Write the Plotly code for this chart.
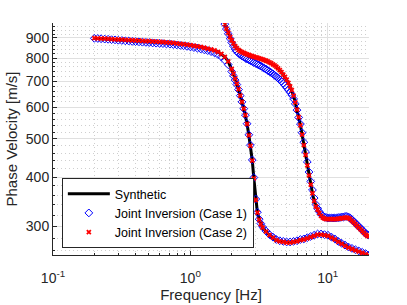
import plotly.graph_objects as go

# ---------------- data ----------------
freq_fund = [0.200, 0.212, 0.224, 0.238, 0.252, 0.267, 0.283, 0.299, 0.317, 0.336,
             0.356, 0.377, 0.399, 0.423, 0.448, 0.475, 0.502, 0.532, 0.564, 0.597,
             0.632, 0.670, 0.710, 0.752, 0.796, 0.843, 0.893, 0.946, 1.002, 1.062,
             1.125, 1.191, 1.262, 1.337, 1.416, 1.500, 1.589, 1.683, 1.783, 1.889,
             2.001, 2.060, 2.120, 2.180, 2.245, 2.310, 2.378, 2.450, 2.519, 2.590,
             2.669, 2.740, 2.827, 2.900, 2.995, 3.080, 3.172, 3.260, 3.360, 3.560,
             3.771, 3.994, 4.231, 4.482, 4.748, 5.030, 5.328, 5.644, 5.979, 6.333,
             6.709, 7.107, 7.528, 7.975, 8.448, 8.949, 9.479, 10.04, 10.64, 11.27,
             11.94, 12.64, 13.39, 14.19, 15.03, 15.92, 16.86, 17.86, 18.92, 20.0]

syn_fund = [899, 898, 897, 896, 895, 894, 893, 892, 891, 890,
            889, 888, 887, 886, 885, 884, 883, 882, 881, 880,
            879, 877, 876, 874, 872, 870, 868, 866, 863, 860,
            857, 854, 850, 846, 842, 837, 830, 820, 806, 785,
            750, 730, 710, 690, 668, 643, 620, 596, 574, 545,
            510, 480, 440, 397, 350, 325, 312, 304, 298, 291,
            285, 281, 277, 275, 274, 273, 273, 274, 275, 277,
            278, 280, 282, 284, 286, 286, 285, 284, 281, 278,
            274, 271, 268, 265, 263, 261, 259, 257, 255, 253]

case1_fund = [898, 897, 896, 894, 893, 891, 890, 888, 887, 885,
              884, 882, 881, 880, 878, 877, 876, 874, 873, 872,
              871, 869, 868, 866, 864, 862, 860, 857, 854, 851,
              848, 844, 840, 836, 831, 825, 817, 806, 790, 770,
              740, 722, 704, 686, 666, 643, 620, 596, 574, 546,
              512, 482, 442, 399, 352, 326, 313, 305, 299, 292,
              286, 282, 278, 276, 275, 274, 274, 275, 276, 278,
              279, 281, 283, 285, 287, 287, 286, 285, 282, 279,
              275, 272, 269, 266, 264, 262, 260, 258, 256, 254]

case2_fund = [899, 898, 897, 896, 895, 894, 893, 892, 891, 890,
              889, 888, 887, 886, 885, 884, 883, 882, 881, 880,
              879, 877, 876, 874, 872, 870, 868, 866, 863, 860,
              857, 854, 850, 846, 842, 837, 830, 820, 806, 785,
              751, 731, 710, 690, 668, 643, 620, 596, 574, 545,
              510, 480, 440, 397, 350, 325, 312, 304, 298, 291,
              285, 281, 277, 275, 274, 273, 273, 274, 275, 277,
              278, 280, 282, 284, 286, 286, 285, 284, 281, 278,
              274, 271, 268, 265, 263, 261, 259, 257, 255, 253]

freq_high = [1.783, 1.830, 1.889, 1.950, 2.001, 2.060, 2.120, 2.180, 2.245, 2.310,
             2.378, 2.450, 2.519, 2.590, 2.669, 2.740, 2.827, 2.900, 2.995, 3.080,
             3.172, 3.260, 3.360, 3.460, 3.560, 3.660, 3.771, 3.880, 3.994, 4.110,
             4.231, 4.355, 4.482, 4.613, 4.748, 4.887, 5.030, 5.177, 5.328, 5.484,
             5.644, 5.809, 5.979, 6.154, 6.333, 6.518, 6.709, 6.905, 7.107, 7.315,
             7.528, 7.748, 7.975, 8.208, 8.448, 8.695, 8.949, 9.211, 9.479, 9.757,
             10.04, 10.34, 10.64, 10.95, 11.27, 11.60, 11.94, 12.29, 12.64, 13.01,
             13.39, 13.78, 14.19, 14.60, 15.03, 15.47, 15.92, 16.38, 16.86, 17.36,
             17.86, 18.38, 18.92, 19.47, 20.0]

syn_high = [975, 950, 928, 905, 888, 872, 858, 848, 840, 834,
            829, 825, 821, 818, 815, 812, 809, 807, 804, 802,
            799, 797, 794, 791, 788, 785, 781, 777, 772, 767,
            761, 754, 746, 737, 727, 717, 706, 693, 679, 664,
            643, 618, 593, 567, 541, 512, 482, 455, 428, 404,
            383, 364, 348, 337, 331, 324, 319, 316, 314, 313,
            313, 313, 313, 313, 313, 313, 314, 314, 315, 315,
            316, 316, 315, 313, 310, 307, 304, 301, 298, 295,
            292, 289, 286, 284, 283]

case1_high = [975, 948, 922, 896, 876, 858, 843, 832, 823, 816,
              810, 805, 800, 796, 792, 788, 784, 780, 776, 772,
              768, 764, 759, 754, 750, 745, 740, 735, 730, 724,
              718, 712, 706, 699, 691, 683, 674, 665, 655, 645,
              631, 613, 591, 566, 545, 518, 490, 463, 437, 412,
              390, 371, 354, 341, 333, 327, 322, 319, 317, 316,
              315, 315, 315, 315, 315, 315, 316, 316, 317, 317,
              318, 318, 317, 315, 312, 309, 306, 303, 300, 297,
              294, 291, 288, 286, 285]

case2_high = [975, 950, 928, 905, 888, 872, 858, 848, 840, 834,
              829, 825, 821, 818, 815, 812, 809, 807, 804, 802,
              799, 797, 794, 791, 788, 785, 781, 777, 772, 767,
              761, 754, 746, 737, 727, 717, 706, 693, 679, 664,
              643, 618, 593, 567, 541, 512, 482, 455, 428, 404,
              383, 364, 348, 337, 331, 324, 319, 316, 314, 313,
              313, 313, 313, 313, 313, 313, 314, 314, 315, 315,
              316, 316, 315, 313, 310, 307, 304, 301, 298, 295,
              292, 289, 286, 284, 283]

x_tickvals = [0.1, 1, 10]
x_ticktext = ["10<sup>-1</sup>", "10<sup>0</sup>", "10<sup>1</sup>"]
y_tickvals = [300, 400, 500, 600, 700, 800, 900]
x_minor = [0.2, 0.3, 0.4, 0.5, 0.6, 0.7, 0.8, 0.9, 2, 3, 4, 5, 6, 7, 8, 9, 20]
y_minor = [260, 280, 320, 340, 360, 380, 420, 440, 460, 480, 520, 540, 560, 580,
           620, 640, 660, 680, 720, 740, 760, 780, 820, 840, 860, 880, 920, 940, 960, 980]

# ---------------- figure ----------------
FONT = "Liberation Sans, Arial, sans-serif"
TXT = "#262626"

fig = go.Figure()

for i, (fx, fy) in enumerate([(freq_fund, syn_fund), (freq_high, syn_high)]):
    fig.add_trace(go.Scatter(x=fx, y=fy, mode="lines", name="Synthetic",
                             line=dict(color="black", width=3),
                             showlegend=(i == 0)))
for i, (fx, fy) in enumerate([(freq_fund, case1_fund), (freq_high, case1_high)]):
    fig.add_trace(go.Scatter(x=fx, y=fy, mode="markers", name="Joint Inversion (Case 1)",
                             marker=dict(symbol="diamond-open", color="blue", size=6,
                                         line=dict(width=1, color="blue")),
                             showlegend=(i == 0)))
for i, (fx, fy) in enumerate([(freq_fund, case2_fund), (freq_high, case2_high)]):
    fig.add_trace(go.Scatter(x=fx, y=fy, mode="markers", name="Joint Inversion (Case 2)",
                             marker=dict(symbol="x-thin", color="red", size=4,
                                         line=dict(width=1.8, color="red")),
                             showlegend=(i == 0)))

fig.update_layout(
    width=407, height=305,
    margin=dict(l=53, r=38, t=23, b=50),
    paper_bgcolor="white", plot_bgcolor="white",
    font=dict(family=FONT, color=TXT, size=14),
    showlegend=True,
    legend=dict(x=0.028, y=0.03, xanchor="left", yanchor="bottom",
                bgcolor="white", bordercolor=TXT, borderwidth=1,
                font=dict(size=12.5, color="black"), tracegroupgap=0,
                itemwidth=42),
)

fig.update_xaxes(
    type="log", range=[-1, 1.30103], automargin=False,
    tickvals=x_tickvals, ticktext=x_ticktext,
    ticks="inside", ticklen=4, tickcolor=TXT, ticklabelstandoff=10,
    showline=True, linecolor=TXT, linewidth=1, mirror=False,
    showgrid=True, gridcolor="#e0e0e0", gridwidth=1,
    tickfont=dict(size=14, color=TXT),
    title=dict(text="Frequency [Hz]", font=dict(size=15, color=TXT), standoff=4),
    minor=dict(tickvals=x_minor, ticks="inside", ticklen=2, tickcolor=TXT,
               showgrid=True, gridcolor="#cfcfcf", griddash="1px,3px", gridwidth=1),
    zeroline=False,
)
fig.update_yaxes(
    type="log", range=[2.4048, 2.9921], automargin=False,
    tickvals=y_tickvals,
    ticks="inside", ticklen=4, tickcolor=TXT,
    showline=True, linecolor=TXT, linewidth=1, mirror=False,
    showgrid=True, gridcolor="#e0e0e0", gridwidth=1,
    tickfont=dict(size=14, color=TXT),
    title=dict(text="Phase Velocity [m/s]", font=dict(size=15, color=TXT), standoff=4),
    minor=dict(tickvals=y_minor, ticks="inside", ticklen=2, tickcolor=TXT,
               showgrid=True, gridcolor="#cfcfcf", griddash="1px,3px", gridwidth=1),
    zeroline=False,
)

fig.write_html("out.html", config={"displayModeBar": False},
               post_script="document.body.style.margin='0';")
